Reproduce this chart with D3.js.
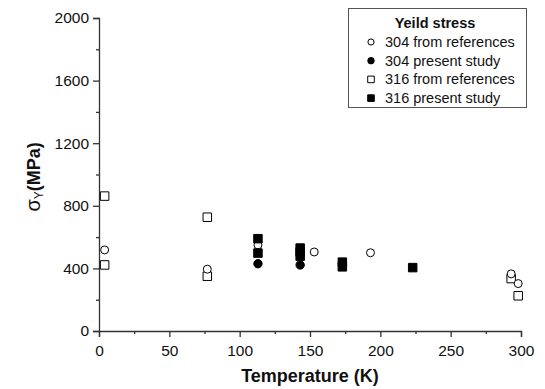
<!DOCTYPE html>
<html>
<head>
<meta charset="utf-8">
<script src="https://cdn.jsdelivr.net/npm/d3@7"></script>
<style>
  body { margin: 0; background: #fff; }
  svg { display: block; font-family: "Liberation Sans", Arial, sans-serif; }
</style>
</head>
<body>
<svg id="chart" width="545" height="389"></svg>
<script>
// Yield stress of 304 / 316 stainless steel vs. temperature
const xTicks = [0, 50, 100, 150, 200, 250, 300];
const yTicks = [0, 400, 800, 1200, 1600, 2000];

const s304RefT = [4, 77, 113, 153, 193, 293, 298];
const s304RefV = [518, 395, 550, 505, 500, 365, 303];

const s304PresT = [113, 143];
const s304PresV = [430, 422];

const s316RefT = [4, 4, 77, 77, 293, 298];
const s316RefV = [862, 422, 727, 350, 335, 225];

const s316PresT = [113, 113, 143, 143, 143, 173, 173, 223];
const s316PresV = [590, 498, 530, 505, 478, 440, 410, 405];

const legendLabels = ["304 from references", "304 present study", "316 from references", "316 present study"];

const svg = d3.select("#chart");
const x = d3.scaleLinear().domain([0, 300]).range([99, 521]);
const y = d3.scaleLinear().domain([0, 2000]).range([331, 18]);
const ink = "#333";

// axes with major and minor ticks
const xAxis = svg.append("g").attr("transform", `translate(0,${y(0)})`)
  .call(d3.axisBottom(x).tickValues(xTicks).tickSize(6).tickPadding(5).tickFormat(d3.format("d")));
svg.append("g").attr("transform", `translate(0,${y(0)})`)
  .call(d3.axisBottom(x).tickValues(d3.range(25, 300, 50)).tickSize(3).tickFormat(""))
  .select(".domain").remove();
const yAxis = svg.append("g").attr("transform", `translate(${x(0)},0)`)
  .call(d3.axisLeft(y).tickValues(yTicks).tickSize(6).tickPadding(4).tickFormat(d3.format("d")));
svg.append("g").attr("transform", `translate(${x(0)},0)`)
  .call(d3.axisLeft(y).tickValues(d3.range(200, 2000, 400)).tickSize(3).tickFormat(""))
  .select(".domain").remove();

svg.selectAll(".domain").attr("stroke", ink).attr("stroke-width", 1.3);
svg.selectAll(".tick line").attr("stroke", ink).attr("stroke-width", 1.3);
svg.selectAll(".tick text").attr("font-size", 15.5).attr("fill", "#111")
  .attr("font-family", "Liberation Sans, Arial, sans-serif");
xAxis.selectAll(".tick text").attr("dy", "0.9em");

// axis titles
svg.append("text").attr("x", x(150)).attr("y", 382).attr("text-anchor", "middle")
  .attr("font-size", 18).attr("font-weight", "bold").attr("fill", "#111")
  .text("Temperature (K)");

const yt = svg.append("text").attr("transform", `translate(40,${y(985)}) rotate(-90)`)
  .attr("text-anchor", "middle").attr("font-size", 18).attr("font-weight", "bold").attr("fill", "#111");
yt.append("tspan").attr("font-size", 20).attr("font-weight", "normal").text("σ");
yt.append("tspan").attr("font-size", 12).attr("font-weight", "normal").attr("dy", 3).text("Y");
yt.append("tspan").attr("dy", -3).text("(MPa)");

// markers
const sym = {
  openCircle: { type: d3.symbolCircle, size: 50, fill: "#fff" },
  filledCircle: { type: d3.symbolCircle, size: 55, fill: "#000" },
  openSquare: { type: d3.symbolSquare, size: 72, fill: "#fff" },
  filledSquare: { type: d3.symbolSquare, size: 72, fill: "#000" }
};
function plot(T, V, s) {
  const gen = d3.symbol().type(s.type).size(s.size);
  svg.append("g").selectAll("path").data(T.map((t, i) => [t, V[i]])).join("path")
    .attr("transform", d => `translate(${x(d[0])},${y(d[1])})`)
    .attr("d", gen).attr("fill", s.fill).attr("stroke", "#000").attr("stroke-width", 1);
}
plot(s316RefT, s316RefV, sym.openSquare);
plot(s304RefT, s304RefV, sym.openCircle);
plot(s316PresT, s316PresV, sym.filledSquare);
plot(s304PresT, s304PresV, sym.filledCircle);

// legend
const lg = svg.append("g");
lg.append("rect").attr("x", 348.5).attr("y", 8.5).attr("width", 178).attr("height", 99)
  .attr("fill", "#fff").attr("stroke", "#555").attr("stroke-width", 1);
lg.append("text").attr("x", 435).attr("y", 28).attr("text-anchor", "middle")
  .attr("font-size", 14.5).attr("font-weight", "bold").attr("fill", "#111").text("Yeild stress");
const legSyms = [sym.openCircle, sym.filledCircle, sym.openSquare, sym.filledSquare];
legendLabels.forEach((lab, i) => {
  const cy = 42 + i * 18.7;
  const s = legSyms[i];
  lg.append("path").attr("transform", `translate(371,${cy})`)
    .attr("d", d3.symbol().type(s.type).size(s.size * 0.6)).attr("fill", s.fill)
    .attr("stroke", "#000").attr("stroke-width", 1);
  lg.append("text").attr("x", 385).attr("y", cy + 5).attr("font-size", 14.5)
    .attr("fill", "#111").text(lab);
});
</script>
</body>
</html>
